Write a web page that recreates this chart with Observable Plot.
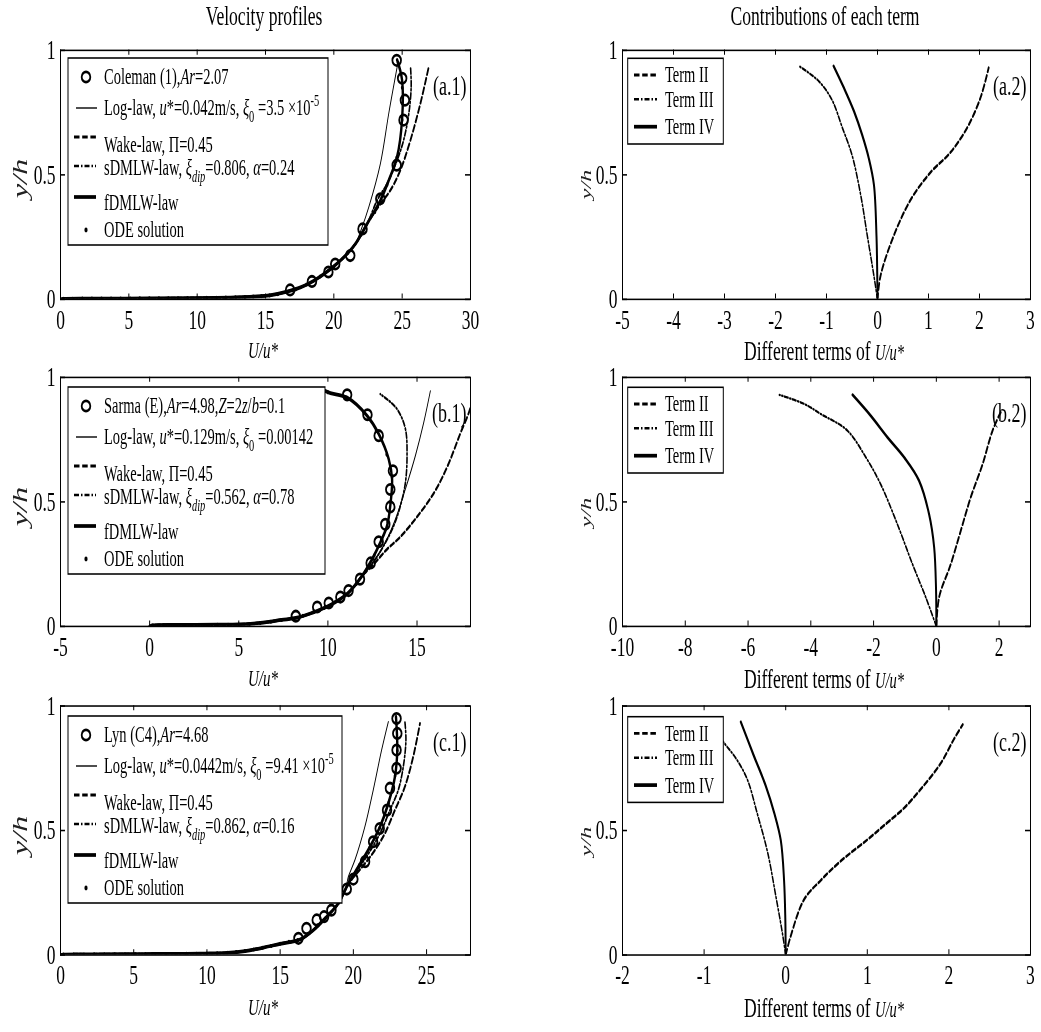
<!DOCTYPE html>
<html>
<head>
<meta charset="utf-8">
<script src="https://cdn.jsdelivr.net/npm/d3@7"></script>
<script src="https://cdn.jsdelivr.net/npm/@observablehq/plot@0.6"></script>
<style>
  html, body { margin: 0; padding: 0; background: #fff; }
  #page { position: relative; width: 1041px; height: 1032px; overflow: hidden; }
  #fig { position: absolute; left: 0; top: 0; width: 1041px; height: 665.8px; transform: scaleY(1.55); transform-origin: 0 0; }
  #fig > svg { position: absolute; overflow: visible; }
</style>
</head>
<body>
<div id="page"><div id="fig"></div></div>
<script>
// ================= DATA =================
// ---- (a.1) Coleman (1), Ar = 2.07 ----
const a1ObsU = [16.8, 18.4, 19.6, 20.1, 21.2, 22.1, 23.4, 24.6, 25.1, 25.2, 25.0, 24.6];
const a1ObsY = [0.038, 0.072, 0.11, 0.142, 0.176, 0.283, 0.404, 0.539, 0.72, 0.80, 0.888, 0.96];
const a1Lower = [[0,0],[0.2,0.002],[3,0.003],[6.5,0.004],[9.3,0.005],[11.4,0.006],[12.8,0.008],[14.1,0.011],[15.3,0.016],[16.5,0.03],[17.56,0.048],[18.54,0.075],[19.76,0.122],[20.73,0.169],[21.58,0.223]];
const a1Log   = [[22.0,0.28],[22.56,0.371],[23.41,0.546],[24.02,0.747],[24.64,0.935]];
const a1Wake  = [[22.44,0.304],[23.41,0.384],[24.14,0.438],[24.87,0.519],[25.61,0.64],[26.34,0.788],[26.95,0.935]];
const a1sDMLW = [[22.44,0.304],[23.17,0.398],[23.9,0.465],[24.63,0.559],[25.11,0.64],[25.49,0.747],[25.66,0.855],[25.61,0.935]];
const a1fDMLW = [[22.44,0.304],[23.41,0.398],[24.02,0.478],[24.63,0.573],[24.99,0.72],[24.99,0.882],[24.63,0.962]];
const a1Ode = [[0.2,0.002],[0.9,0.002],[1.6,0.003],[2.3,0.003],[3.0,0.003],[3.7,0.003],[4.4,0.003],[5.1,0.003],[5.8,0.004],[6.5,0.004],[7.2,0.004],[7.9,0.004],[8.6,0.004],[9.3,0.005],[10.0,0.005],[10.7,0.006],[11.4,0.006],[12.1,0.007],[12.8,0.008],[13.5,0.009],[14.1,0.011],[14.7,0.013],[15.3,0.016],[15.9,0.021],[16.5,0.03],[17.2,0.04],[18.0,0.06],[19.0,0.092],[20.0,0.13],[21.0,0.185],[22.0,0.26],[23.0,0.35],[23.9,0.46],[24.6,0.57],[25.0,0.72],[25.0,0.85],[24.7,0.95]];
// ---- (a.2) terms ----
const a2TermII  = [[0,0],[0.06,0.095],[0.32,0.256],[0.65,0.40],[1.04,0.51],[1.43,0.59],[1.76,0.69],[2.02,0.81],[2.18,0.93]];
const a2TermIII = [[0,0],[-0.07,0.094],[-0.2,0.256],[-0.33,0.42],[-0.5,0.58],[-0.69,0.69],[-0.89,0.80],[-1.15,0.876],[-1.54,0.937]];
const a2TermIV  = [[0,0],[-0.005,0.1],[-0.02,0.256],[-0.07,0.46],[-0.17,0.566],[-0.3,0.66],[-0.46,0.755],[-0.66,0.85],[-0.86,0.937]];

// ---- (b.1) Sarma (E), Ar = 4.98, Z = 0.1 ----
const b1ObsU = [8.2, 9.4, 10.05, 10.7, 11.16, 11.8, 12.4, 12.85, 13.22, 13.5, 13.5, 13.65, 12.85, 12.22, 11.08];
const b1ObsY = [0.041, 0.078, 0.094, 0.118, 0.144, 0.19, 0.255, 0.34, 0.41, 0.48, 0.55, 0.625, 0.766, 0.85, 0.93];
const b1Lower = [[0,0],[0.15,0.004],[2.0,0.006],[3.8,0.007],[5.0,0.008],[6.2,0.014],[7.4,0.026],[8.27,0.035],[9.21,0.057],[10.24,0.09],[11.17,0.137],[11.92,0.203]];
const b1Log   = [[12.66,0.27],[13.22,0.337],[13.79,0.431],[14.35,0.552],[14.91,0.686],[15.38,0.82],[15.75,0.946]];
const b1Wake  = [[12.66,0.257],[13.32,0.31],[14.07,0.36],[15.0,0.44],[15.94,0.535],[16.69,0.64],[17.43,0.775],[18.0,0.88],[18.1,0.94]];
const b1sDMLW = [[12.66,0.27],[13.13,0.324],[13.69,0.404],[14.07,0.485],[14.35,0.578],[14.44,0.686],[14.35,0.793],[13.88,0.873],[12.94,0.933]];
const b1fDMLW = [[12.48,0.27],[12.94,0.337],[13.32,0.404],[13.5,0.485],[13.6,0.592],[13.41,0.672],[12.85,0.773],[12.2,0.846],[11.08,0.919],[10.14,0.937],[9.77,0.948]];
const b1Ode = [[0.15,0.004],[0.8,0.005],[1.4,0.005],[2.0,0.006],[2.6,0.006],[3.2,0.006],[3.8,0.007],[4.4,0.007],[5.0,0.008],[5.6,0.01],[6.2,0.014],[6.8,0.019],[7.4,0.026],[8.0,0.032],[8.6,0.043],[9.2,0.057],[9.8,0.074],[10.4,0.097],[11.0,0.128],[11.6,0.17],[12.1,0.22],[12.6,0.285],[13.0,0.35],[13.35,0.42],[13.5,0.5],[13.6,0.6],[13.3,0.69],[12.7,0.785],[12.0,0.86],[11.0,0.92],[10.0,0.94]];
// ---- (b.2) terms ----
const b2TermII  = [[0,0],[0.09,0.118],[0.46,0.25],[0.78,0.385],[1.1,0.52],[1.47,0.65],[1.79,0.786],[2.05,0.86]];
const b2TermIII = [[0,0],[-0.34,0.118],[-0.76,0.25],[-1.24,0.41],[-1.77,0.57],[-2.25,0.68],[-2.83,0.786],[-3.68,0.853],[-4.2,0.893],[-5.0,0.93]];
const b2TermIV  = [[0,0],[-0.01,0.15],[-0.07,0.318],[-0.23,0.45],[-0.55,0.585],[-1.03,0.68],[-1.56,0.76],[-2.09,0.846],[-2.67,0.93]];

// ---- (c.1) Lyn (C4), Ar = 4.68 ----
const c1ObsU = [16.25, 16.8, 17.5, 18.0, 18.5, 19.55, 20.0, 20.8, 21.35, 21.8, 22.3, 22.5, 22.95, 22.95, 23.0, 22.95];
const c1ObsY = [0.067, 0.107, 0.141, 0.154, 0.18, 0.265, 0.305, 0.375, 0.455, 0.508, 0.582, 0.67, 0.75, 0.823, 0.89, 0.95];
const c1Lower = [[0,0],[0.2,0.002],[2.3,0.003],[5.8,0.004],[8.6,0.005],[10.0,0.006],[11.4,0.009],[12.6,0.016],[13.8,0.029],[15.0,0.045],[16.36,0.062],[17.27,0.1],[18.18,0.154],[18.98,0.208]];
const c1Log   = [[19.5,0.275],[19.66,0.315],[20.11,0.382],[20.79,0.516],[21.36,0.663],[21.93,0.823],[22.39,0.937]];
const c1Wake  = [[19.7,0.288],[20.8,0.368],[21.48,0.422],[22.16,0.489],[22.84,0.582],[23.52,0.676],[24.09,0.797],[24.55,0.93]];
const c1sDMLW = [[19.7,0.288],[20.5,0.36],[21.25,0.428],[21.93,0.502],[22.5,0.582],[23.07,0.663],[23.41,0.756],[23.59,0.863],[23.52,0.937]];
const c1fDMLW = [[19.66,0.288],[20.34,0.354],[21.14,0.435],[21.82,0.515],[22.39,0.609],[22.84,0.716],[23.0,0.823],[22.91,0.957]];
const c1Ode = [[0.2,0.002],[0.9,0.002],[1.6,0.002],[2.3,0.003],[3.0,0.003],[3.7,0.003],[4.4,0.003],[5.1,0.003],[5.8,0.004],[6.5,0.004],[7.2,0.004],[7.9,0.004],[8.6,0.005],[9.3,0.005],[10.0,0.006],[10.7,0.007],[11.4,0.009],[12.0,0.012],[12.6,0.016],[13.2,0.022],[13.8,0.029],[14.4,0.036],[15.0,0.045],[15.6,0.053],[16.2,0.06],[16.9,0.085],[17.6,0.12],[18.3,0.162],[19.0,0.21],[19.7,0.29],[20.4,0.36],[21.1,0.43],[21.8,0.51],[22.4,0.61],[22.85,0.72],[23.0,0.82],[22.95,0.93]];
// ---- (c.2) terms ----
const c2TermII  = [[0,0],[0.06,0.074],[0.22,0.22],[0.43,0.30],[0.67,0.376],[1.0,0.463],[1.24,0.53],[1.45,0.59],[1.65,0.664],[1.9,0.77],[2.06,0.866],[2.17,0.926]];
const c2TermIII = [[0,0],[-0.04,0.087],[-0.12,0.235],[-0.22,0.41],[-0.35,0.57],[-0.47,0.705],[-0.61,0.79],[-0.75,0.85],[-0.9,0.92]];
const c2TermIV  = [[0,0],[-0.005,0.15],[-0.02,0.30],[-0.06,0.46],[-0.14,0.57],[-0.245,0.68],[-0.39,0.80],[-0.55,0.936]];

// ---- axes ----
const a1Ticks = [0, 5, 10, 15, 20, 25, 30];
const b1Ticks = [-5, 0, 5, 10, 15];
const c1Ticks = [0, 5, 10, 15, 20, 25];
const a2Ticks = [-5, -4, -3, -2, -1, 0, 1, 2, 3];
const b2Ticks = [-10, -8, -6, -4, -2, 0, 2];
const c2Ticks = [-2, -1, 0, 1, 2, 3];
const yTicks = [0, 0.5, 1];

// ---- legend texts ----
const a1Legend = [
  [{t:"Coleman (1),"},{t:"Ar",i:1},{t:"=2.07"}],
  [{t:"Log-law, "},{t:"u",i:1},{t:"*=0.042m/s, "},{t:"ξ",i:1},{t:"0",sub:1},{t:" =3.5 ×10"},{t:"-5",sup:1}],
  [{t:"Wake-law, Π=0.45"}],
  [{t:"sDMLW-law, "},{t:"ξ",i:1},{t:"dip",sub:1,i:1},{t:"=0.806, "},{t:"α",i:1},{t:"=0.24"}],
  [{t:"fDMLW-law"}],
  [{t:"ODE solution"}]
];
const b1Legend = [
  [{t:"Sarma (E),"},{t:"Ar",i:1},{t:"=4.98,"},{t:"Z",i:1},{t:"=2"},{t:"z",i:1},{t:"/"},{t:"b",i:1},{t:"=0.1"}],
  [{t:"Log-law, "},{t:"u",i:1},{t:"*=0.129m/s, "},{t:"ξ",i:1},{t:"0",sub:1},{t:" =0.00142"}],
  [{t:"Wake-law, Π=0.45"}],
  [{t:"sDMLW-law, "},{t:"ξ",i:1},{t:"dip",sub:1,i:1},{t:"=0.562, "},{t:"α",i:1},{t:"=0.78"}],
  [{t:"fDMLW-law"}],
  [{t:"ODE solution"}]
];
const c1Legend = [
  [{t:"Lyn (C4),"},{t:"Ar",i:1},{t:"=4.68"}],
  [{t:"Log-law, "},{t:"u",i:1},{t:"*=0.0442m/s, "},{t:"ξ",i:1},{t:"0",sub:1},{t:" =9.41 ×10"},{t:"-5",sup:1}],
  [{t:"Wake-law, Π=0.45"}],
  [{t:"sDMLW-law, "},{t:"ξ",i:1},{t:"dip",sub:1,i:1},{t:"=0.862, "},{t:"α",i:1},{t:"=0.16"}],
  [{t:"fDMLW-law"}],
  [{t:"ODE solution"}]
];
const termLegend = ["Term II", "Term III", "Term IV"];
const colTitles = ["Velocity profiles", "Contributions of each term"];

// ================= LAYOUT / STYLE =================
const S = 1.55;                       // vertical stretch of the reference picture
const FONT = "'Liberation Serif', 'Times New Roman', serif";
const rowTops = [49, 377, 706];       // frame tops (screen px)
const innerH = 249;                   // frame height (screen px)
const MT = 10, MB = 30;
const cols = [
  {left: 0,   w: 520, mL: 60,  mR: 50},
  {left: 520, w: 521, mL: 102, mR: 11}
];
const lineStyles = {
  log:   {strokeWidth: 0.9},
  wake:  {strokeWidth: 1.8, strokeDasharray: "4,2.5"},
  sdmlw: {strokeWidth: 1.6, strokeDasharray: "3.5,1.8,1,1.8"},
  fdmlw: {strokeWidth: 2.4},
  II:    {strokeWidth: 1.8, strokeDasharray: "4,2.5"},
  III:   {strokeWidth: 1.5, strokeDasharray: "3.5,1.8,1,1.8"},
  IV:    {strokeWidth: 2.0}
};
const ellipseSymbol = {
  draw(ctx, size) {
    const rx = Math.sqrt(size / Math.PI), ry = rx * 0.78, k = 0.5523;
    ctx.moveTo(rx, 0);
    ctx.bezierCurveTo(rx, ry * k, rx * k, ry, 0, ry);
    ctx.bezierCurveTo(-rx * k, ry, -rx, ry * k, -rx, 0);
    ctx.bezierCurveTo(-rx, -ry * k, -rx * k, -ry, 0, -ry);
    ctx.bezierCurveTo(rx * k, -ry, rx, -ry * k, rx, 0);
    ctx.closePath();
  }
};

const panels = [
  {col: 0, row: 0, tag: "(a.1)", xDomain: [0, 30], xTicks: a1Ticks, lower: a1Lower,
   lines: [["log", a1Log], ["wake", a1Wake], ["sdmlw", a1sDMLW], ["fdmlw", a1fDMLW]], ode: a1Ode, obsU: a1ObsU, obsY: a1ObsY},
  {col: 1, row: 0, tag: "(a.2)", xDomain: [-5, 3], xTicks: a2Ticks,
   lines: [["II", a2TermII], ["III", a2TermIII], ["IV", a2TermIV]]},
  {col: 0, row: 1, tag: "(b.1)", xDomain: [-5, 18], xTicks: b1Ticks, lower: b1Lower,
   lines: [["log", b1Log], ["wake", b1Wake], ["sdmlw", b1sDMLW], ["fdmlw", b1fDMLW]], ode: b1Ode, obsU: b1ObsU, obsY: b1ObsY},
  {col: 1, row: 1, tag: "(b.2)", xDomain: [-10, 3], xTicks: b2Ticks,
   lines: [["II", b2TermII], ["III", b2TermIII], ["IV", b2TermIV]]},
  {col: 0, row: 2, tag: "(c.1)", xDomain: [0, 28], xTicks: c1Ticks, lower: c1Lower,
   lines: [["log", c1Log], ["wake", c1Wake], ["sdmlw", c1sDMLW], ["fdmlw", c1fDMLW]], ode: c1Ode, obsU: c1ObsU, obsY: c1ObsY},
  {col: 1, row: 2, tag: "(c.2)", xDomain: [-2, 3], xTicks: c2Ticks,
   lines: [["II", c2TermII], ["III", c2TermIII], ["IV", c2TermIV]]}
];

const fig = document.getElementById("fig");
const TICK_V = 3.3, TICK_H = 5;

for (const p of panels) {
  const c = cols[p.col];
  const [x0, x1] = p.xDomain;
  const marks = [];
  for (const [kind, pts] of p.lines) {
    const data = p.lower ? p.lower.concat(pts) : pts;
    marks.push(Plot.line(data, {x: d => d[0], y: d => d[1], stroke: "#000", fill: "none",
      curve: "catmull-rom", clip: true, ...lineStyles[kind]}));
  }
  if (p.ode) marks.push(Plot.dot(p.ode, {x: d => d[0], y: d => d[1], r: 1.3, fill: "#000", stroke: "none", clip: true}));
  if (p.obsU) marks.push(Plot.dot(d3.range(p.obsU.length), {x: i => p.obsU[i], y: i => p.obsY[i],
      r: 4.3, symbol: ellipseSymbol, fill: "none", stroke: "#000", strokeWidth: 1.8}));
  marks.push(Plot.ruleX(p.xTicks, {x: d => d, y1: 0, y2: 0, insetTop: -TICK_V, stroke: "#000"}));
  marks.push(Plot.ruleX(p.xTicks, {x: d => d, y1: 1, y2: 1, insetBottom: -TICK_V, stroke: "#000"}));
  marks.push(Plot.ruleY(yTicks, {y: d => d, x1: x0, x2: x0, insetRight: -TICK_H, stroke: "#000"}));
  marks.push(Plot.ruleY(yTicks, {y: d => d, x1: x1, x2: x1, insetLeft: -TICK_H, stroke: "#000"}));
  marks.push(Plot.frame({stroke: "#000", strokeWidth: 1}));
  marks.push(Plot.text([p.tag], {text: d => d, frameAnchor: "top-right", dx: -4, dy: 25 / S,
      textAnchor: "end", fontSize: 18, fill: "#000"}));

  const svg = Plot.plot({
    width: c.w, height: innerH / S + MT + MB,
    marginLeft: c.mL, marginRight: c.mR, marginTop: MT, marginBottom: MB,
    style: {fontFamily: FONT, fontSize: "17.5px", background: "transparent", color: "#000"},
    x: {domain: p.xDomain, ticks: p.xTicks, tickSize: 0, tickPadding: 6.5, tickFormat: d => String(d), label: null},
    y: {domain: [0, 1], ticks: yTicks, tickSize: 0, tickPadding: 5, tickFormat: d => String(d), label: null},
    marks
  });
  svg.style.position = "absolute";
  svg.style.left = c.left + "px";
  svg.style.top = (rowTops[p.row] / S - MT) + "px";
  fig.appendChild(svg);
}

// ================= OVERLAY: titles, axis labels, legends =================
const ov = d3.select(fig).append("svg")
  .attr("width", 1041).attr("height", 1032 / S)
  .style("left", "0px").style("top", "0px")
  .style("font-family", FONT);

function rich(g, x, y, segs, size, anchor) {
  const t = g.append("text").attr("x", x).attr("y", y).attr("font-size", size)
    .attr("text-anchor", anchor || "start").attr("fill", "#000");
  let shift = 0;
  for (const s of segs) {
    const ts = t.append("tspan").text(s.t);
    let target = 0;
    if (s.i) ts.attr("font-style", "italic");
    if (s.sub) { target = 0.28 * size; ts.attr("font-size", size * 0.72); }
    if (s.sup) { target = -0.4 * size; ts.attr("font-size", size * 0.72); }
    if (s.fs) ts.attr("font-size", s.fs);
    if (target - shift) ts.attr("dy", target - shift);
    shift = target;
  }
  return t;
}

// column titles
ov.append("text").attr("x", 264).attr("y", 25 / S).attr("text-anchor", "middle")
  .attr("font-size", 17.6).text(colTitles[0]);
ov.append("text").attr("x", 825).attr("y", 25 / S).attr("text-anchor", "middle")
  .attr("font-size", 17.6).text(colTitles[1]);

// axis labels
rowTops.forEach((top, r) => {
  const bottom = top + innerH;
  rich(ov, 263, (bottom + 60) / S, [{t: "U/u*", i: 1}], 15, "middle");
  rich(ov, 824, (bottom + 62) / S, [{t: "Different terms of "}, {t: "U/u*", i: 1, fs: 14.5}], 17.6, "middle");
  const mid = top + innerH / 2;
  ov.append("text").attr("transform", `translate(20,${(mid + 5) / S}) rotate(-90)`)
    .attr("text-anchor", "middle").attr("dy", "0.32em").attr("font-style", "italic")
    .attr("font-size", 21).attr("fill", "#222").text("y/h");
  ov.append("text").attr("transform", `translate(586,${(mid + 11) / S}) rotate(-90)`)
    .attr("text-anchor", "middle").attr("dy", "0.32em").attr("font-style", "italic")
    .attr("font-size", 15.5).attr("fill", "#222").text("y/h");
});

// left legends
const LSYM = [19, 50, 79, 108, 139, 172], LTXT = [19, 50, 87, 110, 145, 172];
function legendLeft(topA, rightA, segsList) {
  const g = ov.append("g");
  g.append("rect").attr("x", 68).attr("y", topA / S).attr("width", rightA - 68).attr("height", 187 / S)
    .attr("fill", "#fff").attr("stroke", "#000").attr("stroke-width", 1);
  const sy = i => (topA + LSYM[i]) / S;
  g.append("ellipse").attr("cx", 86).attr("cy", sy(0)).attr("rx", 4.3).attr("ry", 4.3 * 0.78)
    .attr("fill", "none").attr("stroke", "#000").attr("stroke-width", 1.8);
  g.append("line").attr("x1", 76).attr("x2", 97).attr("y1", sy(1)).attr("y2", sy(1)).attr("stroke", "#000").attr("stroke-width", 0.9);
  g.append("line").attr("x1", 74).attr("x2", 96).attr("y1", sy(2)).attr("y2", sy(2)).attr("stroke", "#000").attr("stroke-width", 1.8).attr("stroke-dasharray", "5.5,2.7");
  g.append("line").attr("x1", 74).attr("x2", 96).attr("y1", sy(3)).attr("y2", sy(3)).attr("stroke", "#000").attr("stroke-width", 1.6).attr("stroke-dasharray", "5,2,1.5,2");
  g.append("line").attr("x1", 74).attr("x2", 96).attr("y1", sy(4)).attr("y2", sy(4)).attr("stroke", "#000").attr("stroke-width", 2.4);
  g.append("circle").attr("cx", 86).attr("cy", sy(5)).attr("r", 1.6).attr("fill", "#000");
  segsList.forEach((segs, i) => rich(g, 104, (topA + LTXT[i]) / S + 0.33 * 14.5, segs, 14.5, "start"));
}
legendLeft(58, 328, a1Legend);
legendLeft(387, 325, b1Legend);
legendLeft(716, 342, c1Legend);

// right legends
const RSYM = [16.7, 41, 68.4];
function legendRight(topA) {
  const g = ov.append("g");
  g.append("rect").attr("x", 627.7).attr("y", topA / S).attr("width", 723.3 - 627.7).attr("height", 85.7 / S)
    .attr("fill", "#fff").attr("stroke", "#000").attr("stroke-width", 1);
  const styles = [{w: 1.8, d: "5.5,2.7"}, {w: 1.6, d: "5,2,1.5,2"}, {w: 2.4, d: null}];
  termLegend.forEach((lab, i) => {
    const y = (topA + RSYM[i]) / S;
    const ln = g.append("line").attr("x1", 634).attr("x2", 657).attr("y1", y).attr("y2", y)
      .attr("stroke", "#000").attr("stroke-width", styles[i].w);
    if (styles[i].d) ln.attr("stroke-dasharray", styles[i].d);
    rich(g, 665, y + 0.33 * 14.5, [{t: lab}], 14.5, "start");
  });
}
legendRight(58.3);
legendRight(387.3);
legendRight(716.7);
</script>
</body>
</html>
